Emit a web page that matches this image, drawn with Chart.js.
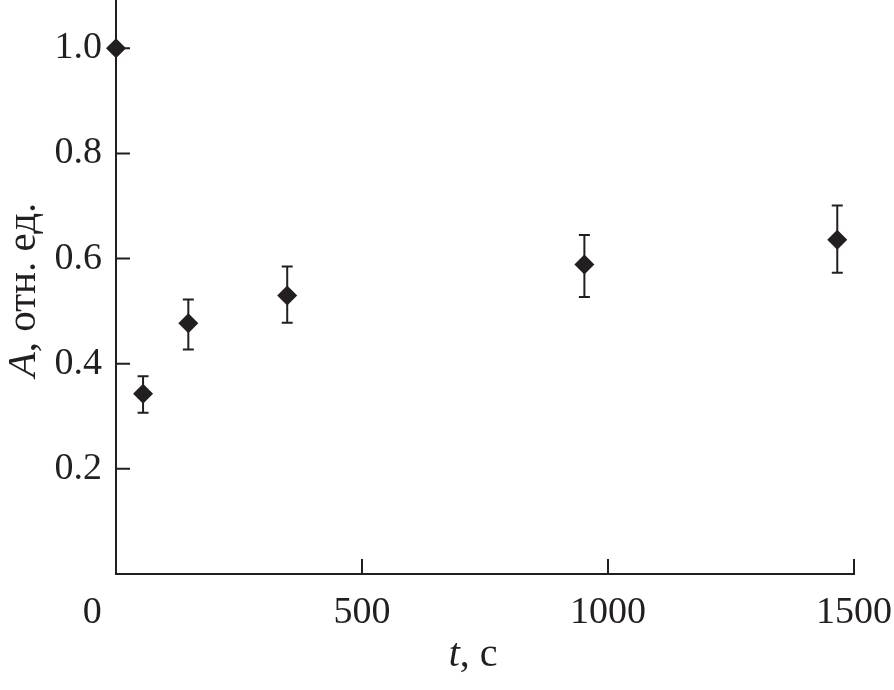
<!DOCTYPE html>
<html>
<head>
<meta charset="utf-8">
<script src="https://cdn.jsdelivr.net/npm/chart.js@4"></script>
<style>
  html, body { margin: 0; padding: 0; background: #fff; }
  #wrap { width: 894px; height: 690px; }
</style>
</head>
<body>
<div id="wrap"><canvas id="chart" width="894" height="690"></canvas></div>
<script>
// Absorbance vs time, with error bars
const timeSec = [0, 55, 147, 348, 952, 1466];
const absorb  = [1.0, 0.343, 0.477, 0.530, 0.589, 0.636];
const errLow  = [null, 0.307, 0.427, 0.478, 0.527, 0.573];
const errHigh = [null, 0.376, 0.522, 0.585, 0.645, 0.701];

const xTicks = [0, 500, 1000, 1500];
const yTicks = [0.2, 0.4, 0.6, 0.8, 1.0];

const INK   = '#231f20';
const SERIF = '"Liberation Serif", "Times New Roman", serif';

const errorBars = {
  id: 'errorBars',
  beforeDatasetsDraw(chart) {
    const { ctx, scales: { x, y } } = chart;
    ctx.save();
    ctx.strokeStyle = INK;
    ctx.lineWidth = 2;
    timeSec.forEach((t, i) => {
      if (errLow[i] == null) return;
      const px = x.getPixelForValue(t);
      const lo = y.getPixelForValue(errLow[i]);
      const hi = y.getPixelForValue(errHigh[i]);
      ctx.beginPath();
      ctx.moveTo(px, lo);       ctx.lineTo(px, hi);
      ctx.moveTo(px - 5.5, lo); ctx.lineTo(px + 5.5, lo);
      ctx.moveTo(px - 5.5, hi); ctx.lineTo(px + 5.5, hi);
      ctx.stroke();
    });
    ctx.restore();
  },
};

// ticks point inward, into the plot area
const innerTicks = {
  id: 'innerTicks',
  afterDraw(chart) {
    const { ctx, chartArea: { left, bottom }, scales: { x, y } } = chart;
    ctx.save();
    ctx.strokeStyle = INK;
    ctx.lineWidth = 2;
    ctx.beginPath();
    y.ticks.forEach(t => {
      const py = y.getPixelForValue(t.value);
      ctx.moveTo(left, py); ctx.lineTo(left + 14, py);
    });
    x.ticks.forEach(t => {
      if (t.value === 0) return;
      const px = x.getPixelForValue(t.value);
      ctx.moveTo(px, bottom); ctx.lineTo(px, bottom - 15);
    });
    ctx.stroke();
    ctx.restore();
  },
};

function drawMixed(ctx, parts, cx, baseY, size) {
  const fonts = parts.map(p => (p.italic ? 'italic ' : '') + size + 'px ' + SERIF);
  const widths = parts.map((p, i) => { ctx.font = fonts[i]; return ctx.measureText(p.text).width; });
  let xPos = cx - widths.reduce((a, b) => a + b, 0) / 2;
  parts.forEach((p, i) => {
    ctx.font = fonts[i];
    ctx.fillText(p.text, xPos, baseY);
    xPos += widths[i];
  });
}

const axisTitles = {
  id: 'axisTitles',
  afterDraw(chart) {
    const { ctx, chartArea: ca } = chart;
    ctx.save();
    ctx.fillStyle = INK;
    ctx.textAlign = 'left';
    ctx.textBaseline = 'alphabetic';
    drawMixed(ctx, [{ text: 't', italic: true }, { text: ', с' }],
      ca.left + (ca.right - ca.left) * 0.484, 666, 40);
    ctx.translate(35, (ca.top + ca.bottom) / 2 + 3);
    ctx.rotate(-Math.PI / 2);
    drawMixed(ctx, [{ text: 'A', italic: true }, { text: ', отн. ед.' }], 0, 0, 41);
    ctx.restore();
  },
};

const tickFont = { family: SERIF, size: 38 };

new Chart(document.getElementById('chart'), {
  type: 'scatter',
  data: {
    datasets: [{
      data: timeSec.map((t, i) => ({ x: t, y: absorb[i] })),
      pointStyle:      'rectRot',
      pointRadius:     10,
      pointHoverRadius: 10,
      backgroundColor: INK,
      borderWidth:     0,
      showLine:        false,
      clip:            false,
    }],
  },
  options: {
    responsive: false,
    animation:  false,
    layout: { autoPadding: false, padding: { left: 0, right: 40, top: 0, bottom: 0 } },
    plugins: {
      legend:  { display: false },
      tooltip: { enabled: false },
    },
    scales: {
      x: {
        type: 'linear',
        min: 0,
        max: 1500,
        afterBuildTicks: s => { s.ticks = xTicks.map(v => ({ value: v })); },
        afterFit: s => { s.height = 116; s.paddingLeft = 0; s.paddingRight = 0; },
        grid:   { drawOnChartArea: false, drawTicks: false },
        border: { display: true, color: INK, width: 2 },
        ticks: {
          padding: 16,
          autoSkip: false,
          maxRotation: 0,
          color: INK,
          font: tickFont,
          callback: v => (v === 0 ? '0     ' : String(v)),
        },
      },
      y: {
        type: 'linear',
        min: 0,
        max: 1.092,
        afterBuildTicks: s => { s.ticks = yTicks.map(v => ({ value: v })); },
        afterFit: s => { s.width = 116; s.paddingTop = 0; s.paddingBottom = 0; },
        grid:   { drawOnChartArea: false, drawTicks: false },
        border: { display: true, color: INK, width: 2 },
        ticks: {
          padding: 14,
          autoSkip: false,
          color: INK,
          font: tickFont,
          callback: v => v.toFixed(1),
        },
      },
    },
  },
  plugins: [errorBars, innerTicks, axisTitles],
});
</script>
</body>
</html>
